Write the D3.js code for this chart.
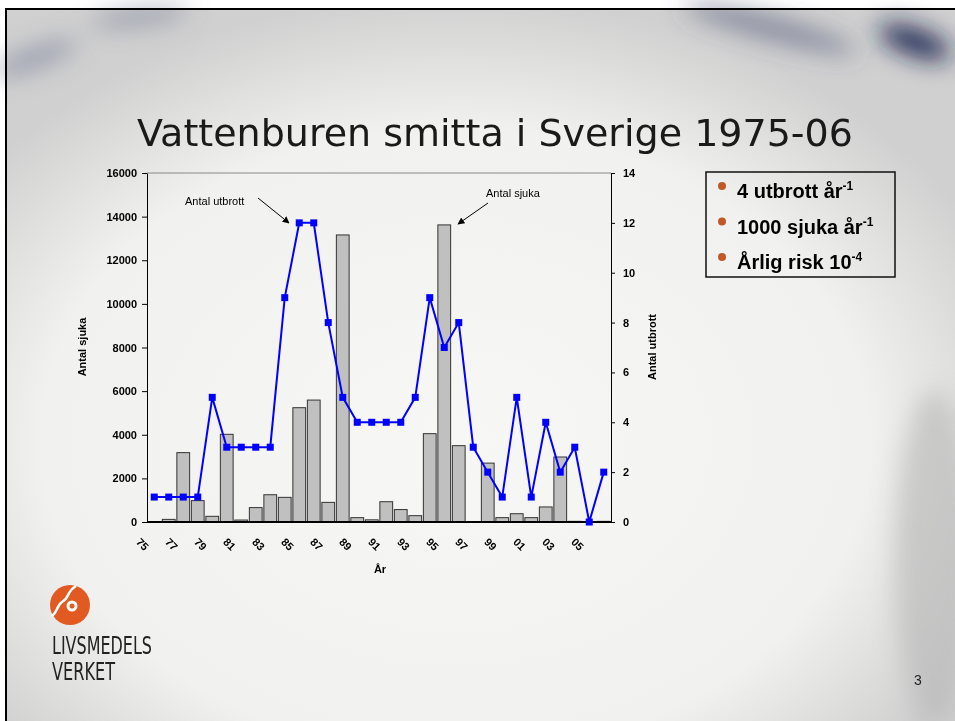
<!DOCTYPE html>
<html>
<head>
<meta charset="utf-8">
<script src="https://cdn.jsdelivr.net/npm/d3@7"></script>
<style>
  html, body { margin: 0; padding: 0; background: #fff; }
  svg { display: block; }
</style>
</head>
<body>
<div id="chart"></div>
<script>
// data
const years = ["75","76","77","78","79","80","81","82","83","84","85","86","87","88","89","90",
               "91","92","93","94","95","96","97","98","99","00","01","02","03","04","05","06"];
const antalSjuka = [20,120,3180,980,260,4020,90,660,1250,1130,5240,5590,900,13160,200,100,
                    930,570,290,4050,13620,3500,0,2700,200,380,200,690,2980,30,0,30];
const antalUtbrott = [1,1,1,1,5,3,3,3,3,9,12,12,8,5,4,4,4,4,5,9,7,8,3,2,1,5,1,4,2,3,0,2];
const leftTicks = [0,2000,4000,6000,8000,10000,12000,14000,16000];
const rightTicks = [0,2,4,6,8,10,12,14];
const legendItems = [
  { text: "4 utbrott år", sup: "-1" },
  { text: "1000 sjuka år", sup: "-1" },
  { text: "Årlig risk 10", sup: "-4" },
];

const width = 955, height = 721;
const plot = { left: 147, right: 611, top: 173, bottom: 522 };

const svg = d3.select("#chart").append("svg")
  .attr("width", width)
  .attr("height", height);

const defs = svg.append("defs");
const bg = defs.append("radialGradient").attr("id", "plate")
  .attr("cx", "0.47").attr("cy", "0.6").attr("r", "0.62");
bg.append("stop").attr("offset", "0").attr("stop-color", "#f7f7f5");
bg.append("stop").attr("offset", "0.7").attr("stop-color", "#f1f1ef");
bg.append("stop").attr("offset", "1").attr("stop-color", "#d0d0d0");
defs.append("filter").attr("id", "blur")
  .attr("x", "-50%").attr("y", "-50%").attr("width", "200%").attr("height", "200%")
  .append("feGaussianBlur").attr("stdDeviation", 12);
defs.append("marker").attr("id", "arrow")
  .attr("viewBox", "0 0 10 10").attr("refX", 9).attr("refY", 5)
  .attr("markerWidth", 7).attr("markerHeight", 7).attr("orient", "auto")
  .append("path").attr("d", "M0,0 L10,5 L0,10 z").attr("fill", "#000");

// slide background (plate photo, roughly)
svg.append("rect").attr("x", 6).attr("y", 9).attr("width", width).attr("height", height)
  .attr("fill", "url(#plate)");
const shade = svg.append("g").attr("filter", "url(#blur)");
shade.append("ellipse").attr("cx", 35).attr("cy", 58).attr("rx", 45).attr("ry", 9)
  .attr("transform", "rotate(-20 35 58)").attr("fill", "#7f849e").attr("opacity", 0.75);
shade.append("ellipse").attr("cx", 140).attr("cy", 17).attr("rx", 50).attr("ry", 7)
  .attr("transform", "rotate(-8 140 17)").attr("fill", "#757a94").attr("opacity", 0.7);
shade.append("ellipse").attr("cx", 770).attr("cy", 28).attr("rx", 90).attr("ry", 11)
  .attr("transform", "rotate(15 770 28)").attr("fill", "#4e5578").attr("opacity", 0.6);
shade.append("ellipse").attr("cx", 915).attr("cy", 42).attr("rx", 38).attr("ry", 13)
  .attr("transform", "rotate(20 915 42)").attr("fill", "#16204c").attr("opacity", 0.95);
shade.append("ellipse").attr("cx", 935).attr("cy", 560).attr("rx", 40).attr("ry", 170)
  .attr("fill", "#b5b5b5").attr("opacity", 0.6);
svg.append("rect").attr("x", 6).attr("y", 9).attr("width", width).attr("height", height)
  .attr("fill", "none").attr("stroke", "#000").attr("stroke-width", 2);

// title
svg.append("text")
  .attr("x", 495).attr("y", 146)
  .attr("text-anchor", "middle")
  .attr("font-family", "DejaVu Sans, Verdana, sans-serif")
  .attr("font-size", 38)
  .attr("fill", "#1a1a1a")
  .text("Vattenburen smitta i Sverige 1975-06");

// scales
const x = d3.scaleBand().domain(years)
  .range([plot.left, plot.right]).paddingInner(0.12).paddingOuter(0.06);
const yL = d3.scaleLinear().domain([0, 16000]).range([plot.bottom, plot.top]);
const yR = d3.scaleLinear().domain([0, 14]).range([plot.bottom, plot.top]);
const cx = (d) => x(d) + x.bandwidth() / 2;

const font = "Liberation Sans, Arial, sans-serif";

// top border of plot area
svg.append("line")
  .attr("x1", plot.left).attr("x2", plot.right)
  .attr("y1", plot.top).attr("y2", plot.top)
  .attr("stroke", "#888").attr("stroke-width", 1);

// bars
svg.append("g").selectAll("rect")
  .data(years)
  .enter()
  .append("rect")
  .attr("x", (d) => x(d))
  .attr("width", x.bandwidth())
  .attr("y", (d, i) => yL(antalSjuka[i]))
  .attr("height", (d, i) => plot.bottom - yL(antalSjuka[i]))
  .attr("fill", "#c0c0c0")
  .attr("stroke", "#333")
  .attr("stroke-width", 1);

// axes
const gL = svg.append("g").attr("transform", `translate(${plot.left},0)`)
  .call(d3.axisLeft(yL).tickValues(leftTicks).tickFormat(d3.format("d"))
    .tickSize(5).tickPadding(5).tickSizeOuter(0));
const gR = svg.append("g").attr("transform", `translate(${plot.right},0)`)
  .call(d3.axisRight(yR).tickValues(rightTicks).tickSize(4).tickPadding(8).tickSizeOuter(0));
[gL, gR].forEach((g) => {
  g.selectAll("path, line").attr("stroke", "#000");
  g.selectAll("text")
    .attr("font-family", font).attr("font-weight", "bold").attr("font-size", 11).attr("fill", "#000");
});

svg.append("line")
  .attr("x1", plot.left).attr("x2", plot.right + 1)
  .attr("y1", plot.bottom).attr("y2", plot.bottom)
  .attr("stroke", "#000").attr("stroke-width", 2);

// x labels, every other year, slanted
svg.append("g").selectAll("text")
  .data(years.filter((d, i) => i % 2 === 0))
  .enter()
  .append("text")
  .attr("transform", (d) => `translate(${cx(d) - 14.5},547) rotate(45)`)
  .attr("text-anchor", "middle")
  .attr("font-family", font).attr("font-weight", "bold").attr("font-size", 11)
  .text((d) => d);

// axis titles
svg.append("text").attr("x", 380).attr("y", 573)
  .attr("text-anchor", "middle")
  .attr("font-family", font).attr("font-weight", "bold").attr("font-size", 11)
  .text("År");
svg.append("text").attr("transform", "translate(86,347) rotate(-90)")
  .attr("text-anchor", "middle")
  .attr("font-family", font).attr("font-weight", "bold").attr("font-size", 11)
  .text("Antal sjuka");
svg.append("text").attr("transform", "translate(656,347) rotate(-90)")
  .attr("text-anchor", "middle")
  .attr("font-family", font).attr("font-weight", "bold").attr("font-size", 11)
  .text("Antal utbrott");

// outbreak line
const line = d3.line()
  .x((d, i) => cx(years[i]))
  .y((d) => yR(d));
svg.append("path")
  .datum(antalUtbrott)
  .attr("d", line)
  .attr("fill", "none")
  .attr("stroke", "#0000ff")
  .attr("stroke-width", 2);
svg.append("g").selectAll("rect")
  .data(antalUtbrott)
  .enter()
  .append("rect")
  .attr("x", (d, i) => cx(years[i]) - 3.5)
  .attr("y", (d) => yR(d) - 3.5)
  .attr("width", 7).attr("height", 7)
  .attr("fill", "#0000ff");

// annotations
svg.append("text").attr("x", 185).attr("y", 205)
  .attr("font-family", font).attr("font-size", 11).text("Antal utbrott");
svg.append("line").attr("x1", 258).attr("y1", 198).attr("x2", 289).attr("y2", 223)
  .attr("stroke", "#000").attr("stroke-width", 1).attr("marker-end", "url(#arrow)");
svg.append("text").attr("x", 486).attr("y", 197)
  .attr("font-family", font).attr("font-size", 11).text("Antal sjuka");
svg.append("line").attr("x1", 488).attr("y1", 203).attr("x2", 458).attr("y2", 224)
  .attr("stroke", "#000").attr("stroke-width", 1).attr("marker-end", "url(#arrow)");

// legend box
svg.append("rect").attr("x", 706).attr("y", 172).attr("width", 189).attr("height", 105)
  .attr("fill", "none").attr("stroke", "#111").attr("stroke-width", 1.5);
const leg = svg.append("g").selectAll("g")
  .data(legendItems)
  .enter()
  .append("g")
  .attr("transform", (d, i) => `translate(0,${198 + i * 35.5})`);
leg.append("circle").attr("cx", 722).attr("cy", -12).attr("r", 4).attr("fill", "#c0582a");
const lt = leg.append("text").attr("x", 737).attr("y", 0)
  .attr("font-family", font).attr("font-weight", "bold").attr("font-size", 20).attr("fill", "#000");
lt.append("tspan").text((d) => d.text);
lt.append("tspan").attr("dy", -8).attr("font-size", 12).text((d) => d.sup);

// logo
const logo = svg.append("g");
logo.append("circle").attr("cx", 70).attr("cy", 605).attr("r", 20).attr("fill", "#e05a22");
logo.append("path")
  .attr("d", "M76,586 C66,592 70,598 62,602 C56,606 58,612 52,616")
  .attr("fill", "none").attr("stroke", "#fff").attr("stroke-width", 2.5);
logo.append("circle").attr("cx", 72).attr("cy", 606).attr("r", 5.5).attr("fill", "#fff");
logo.append("circle").attr("cx", 72).attr("cy", 606).attr("r", 2.5).attr("fill", "#e05a22");
logo.append("text").attr("x", 52).attr("y", 654)
  .attr("font-family", "DejaVu Sans Condensed, Liberation Sans Narrow, sans-serif")
  .attr("font-size", 24).attr("fill", "#222")
  .attr("textLength", 100).attr("lengthAdjust", "spacingAndGlyphs")
  .text("LIVSMEDELS");
logo.append("text").attr("x", 52).attr("y", 680)
  .attr("font-family", "DejaVu Sans Condensed, Liberation Sans Narrow, sans-serif")
  .attr("font-size", 24).attr("fill", "#222")
  .attr("textLength", 63).attr("lengthAdjust", "spacingAndGlyphs")
  .text("VERKET");

// page number
svg.append("text").attr("x", 918).attr("y", 685)
  .attr("text-anchor", "middle")
  .attr("font-family", font).attr("font-size", 14).attr("fill", "#222")
  .text("3");
</script>
</body>
</html>
